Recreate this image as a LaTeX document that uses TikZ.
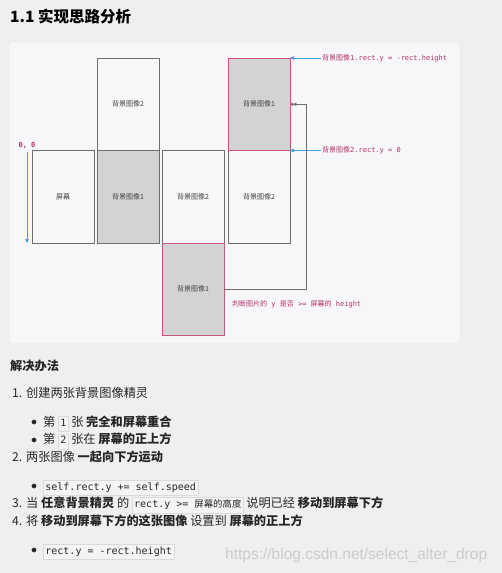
\documentclass[tikz,border=0pt]{standalone}
\usepackage{fontspec}
\setmainfont{Noto Sans CJK SC}
\setmonofont{DejaVu Sans Mono}
\newfontfamily\wmfont{Liberation Sans}
\usetikzlibrary{arrows.meta,positioning}
\definecolor{pagebg}{HTML}{EFEFEF}
\definecolor{panelbg}{HTML}{F7F7F9}
\definecolor{panelline}{HTML}{E4E4E6}
\definecolor{boxline}{HTML}{6E6E6E}
\definecolor{boxgray}{HTML}{D3D3D3}
\definecolor{pinkline}{HTML}{C8557F}
\definecolor{pinktext}{HTML}{B2306A}
\definecolor{axisblue}{HTML}{3D9FE0}
\definecolor{codebg}{HTML}{F4F4F4}
\definecolor{codeline}{HTML}{DADADA}
\newcommand\codebit[1]{{\setlength\fboxsep{1.8pt}\fcolorbox{codeline}{codebg}{\ttfamily\fontsize{10}{11}\selectfont\strut #1}}}
\newcommand\dotmark{\makebox[12pt][l]{\raisebox{0.5pt}{$\bullet$}}}
\begin{document}
\begin{tikzpicture}[x=1pt,y=-1pt,
  imgbox/.style={draw=boxline,line width=0.8pt,fill=panelbg,minimum width=62pt,minimum height=92.5pt,
    inner sep=0pt,outer sep=0pt,font=\fontsize{7}{8}\selectfont,text=black!75},
  graybox/.style={imgbox,fill=boxgray},
  pinkbox/.style={graybox,draw=pinkline},
  note/.style={text=pinktext,font=\fontsize{7}{8}\selectfont,inner sep=1pt},
  bluearr/.style={draw=axisblue,line width=0.7pt,-{Triangle[length=4pt,width=3.5pt]}},
  loopline/.style={draw=boxline,line width=0.8pt,-{Triangle[open,length=3.2pt,width=3.6pt]Triangle[open,length=3.2pt,width=3.6pt]}},
  bodytext/.style={anchor=base west,inner sep=0pt,font=\fontsize{12.2}{14}\selectfont,text=black!85}]
\useasboundingbox (0,0) rectangle (502,573);
\fill[pagebg] (0,0) rectangle (502,573);
\filldraw[fill=panelbg,draw=panelline,rounded corners=3pt] (9,42) rectangle (460,343);

% title
\node[anchor=base west,inner sep=0pt,font=\fontsize{15.5}{18}\selectfont\bfseries] (title) at (10,22) {1.1 实现思路分析};

% columns of images
\node[imgbox,anchor=north west] (scr) at (32,150.5) {屏幕};
\node[imgbox,anchor=north west] (img2b) at (97,58) {背景图像2};
\node[graybox,below=0pt of img2b] (img1b) {背景图像1};
\node[imgbox,anchor=north west] (img2c) at (162,150.5) {背景图像2};
\node[pinkbox,below=0pt of img2c] (img1c) {背景图像1};
\node[imgbox,anchor=north west] (img2d) at (228,150.5) {背景图像2};
\node[pinkbox,above=0pt of img2d] (img1d) {背景图像1};

% origin and axis
\node[note,font=\fontsize{7}{8}\selectfont\ttfamily\bfseries] (orig) at (27,145) {0, 0};
\coordinate (axend) at (orig.south |- scr.south);
\draw[bluearr] ([yshift=-3pt]orig.south) -- (axend);

% notes on the right
\node[note,anchor=west] (ytop) at (321,58) {背景图像\texttt{1.rect.y = -rect.height}};
\node[note,anchor=west] (yzero) at (321,150.5) {背景图像\texttt{2.rect.y = 0}};
\draw[bluearr] (ytop.west) -- (img1d.north east);
\draw[bluearr] (yzero.west) -- (img1d.south east);

% jump back to the top
\draw[loopline] (img1c.east) -- ++(82,0) |- (img1d.east);
\node[note,anchor=west] (check) at (231,304) {判断图片的\texttt{ y }是否\texttt{ >= }屏幕的\texttt{ height}};

% solution text
\node[bodytext] (head) at (10,370.5) {\textbf{解决办法}};
\node[bodytext] (step1) at (12,397.5) {\makebox[14pt][l]{1.}创建两张背景图像精灵};
\node[bodytext] (bul1) at (31,426) {\dotmark 第 \codebit{1} 张 \textbf{完全和屏幕重合}};
\node[bodytext] (bul2) at (31,443.5) {\dotmark 第 \codebit{2} 张在 \textbf{屏幕的正上方}};
\node[bodytext] (step2) at (12,461.5) {\makebox[14pt][l]{2.}两张图像 \textbf{一起向下方运动}};
\node[bodytext] (bul3) at (31,490) {\dotmark\codebit{self.rect.y += self.speed}};
\node[bodytext] (step3) at (12,507.5) {\makebox[14pt][l]{3.}当 \textbf{任意背景精灵} 的 \codebit{rect.y >= {\rmfamily\fontsize{9.4}{11}\selectfont 屏幕的高度}} 说明已经 \textbf{移动到屏幕下方}};
\node[bodytext] (step4) at (12,525.5) {\makebox[14pt][l]{4.}将 \textbf{移动到屏幕下方的这张图像} 设置到 \textbf{屏幕的正上方}};
\node[bodytext] (bul4) at (31,554) {\dotmark\codebit{rect.y = -rect.height}};

% watermark
\node[anchor=base west,inner sep=0pt,text=black!20,font=\wmfont\fontsize{15.5}{17}\selectfont] (wm) at (225,559) {https://blog.csdn.net/select\_alter\_drop};
\end{tikzpicture}
\end{document}
